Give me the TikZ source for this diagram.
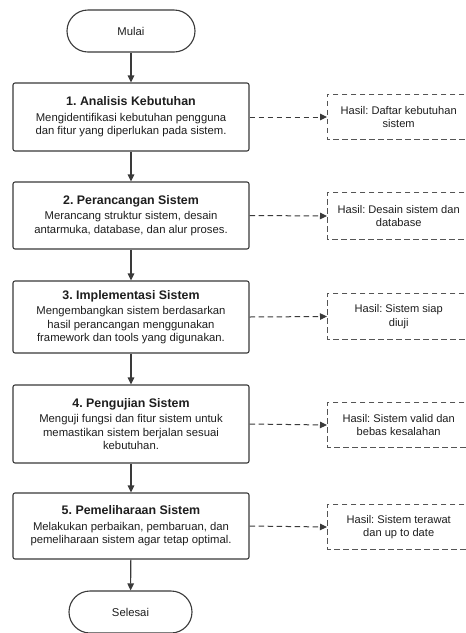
\documentclass[tikz,border=0pt]{standalone}
\usepackage{fontspec}
\setmainfont{Liberation Sans}
\frenchspacing
\usetikzlibrary{arrows.meta}
\definecolor{linegray}{HTML}{3A3A3A}
\definecolor{dashgray}{HTML}{555555}
\definecolor{txt}{HTML}{1E1E1E}
\tikzset{
  terminal/.style={draw=linegray, line width=1.1pt, rounded corners=21pt, minimum height=42pt, inner sep=0pt, text=txt, font=\fontsize{11.3}{13.5}\selectfont},
  stepbox/.style={draw=linegray, line width=1.1pt, rounded corners=2pt, minimum width=236pt, inner sep=0pt, align=center, text=txt, font=\fontsize{11.3}{13.5}\selectfont},
  resultbox/.style={minimum width=143pt, inner sep=0pt, align=center, text=txt, font=\fontsize{11.1}{13.5}\selectfont},
  dashframe/.style={draw=dashgray, line width=0.9pt, dash pattern=on 5.5pt off 3.5pt},
  flow/.style={draw=linegray, line width=1.1pt, -{Triangle[length=7pt,width=6.5pt]}},
  dflow/.style={draw=linegray, line width=1pt, dash pattern=on 5.5pt off 3.5pt, -{Triangle[length=7pt,width=6.5pt]}}
}
\newcommand{\steptitle}[1]{{\fontsize{12.4}{15}\selectfont\bfseries #1}\\[2pt]}
\begin{document}
\begin{tikzpicture}[x=1pt,y=-1pt]
\useasboundingbox[fill=white] (0,0) rectangle (466,633);

\node[terminal, minimum width=128pt] (mulai) at (131,31) {Mulai};

\node[stepbox, minimum height=68pt] (s1) at (131,117) {\steptitle{1. Analisis Kebutuhan}Mengidentifikasi kebutuhan pengguna\\dan fitur yang diperlukan pada sistem.};
\node[stepbox, minimum height=67pt] (s2) at (131,215.5) {\steptitle{2. Perancangan Sistem}Merancang struktur sistem, desain\\antarmuka, database, dan alur proses.};
\node[stepbox, minimum height=72pt] (s3) at (131,317) {\steptitle{3. Implementasi Sistem}Mengembangkan sistem berdasarkan\\hasil perancangan menggunakan\\framework dan tools yang digunakan.};
\node[stepbox, minimum height=78pt] (s4) at (131,424) {\steptitle{4. Pengujian Sistem}Menguji fungsi dan fitur sistem untuk\\memastikan sistem berjalan sesuai\\kebutuhan.};
\node[stepbox, minimum height=66pt] (s5) at (131,526) {\steptitle{5. Pemeliharaan Sistem}Melakukan perbaikan, pembaruan, dan\\pemeliharaan sistem agar tetap optimal.};

\node[terminal, minimum width=123pt] (selesai) at (130.5,612) {Selesai};

\node[resultbox, minimum height=45pt, anchor=west] (r1) at (327,117) {Hasil: Daftar kebutuhan\\sistem};
\node[resultbox, minimum height=46pt, anchor=west] (r2) at (327,216) {Hasil: Desain sistem dan\\database};
\node[resultbox, minimum height=45pt, anchor=west] (r3) at (327,316.5) {Hasil: Sistem siap\\diuji};
\node[resultbox, minimum height=44pt, anchor=west] (r4) at (327,425) {Hasil: Sistem valid dan\\bebas kesalahan};
\node[resultbox, minimum height=44pt, anchor=west] (r5) at (327,527) {Hasil: Sistem terawat\\dan up to date};

\foreach \r in {r1,r2,r3,r4,r5}{
  \draw[dashframe] ([xshift=30pt]\r.north east) -- (\r.north west) -- (\r.south west) -- ([xshift=30pt]\r.south east);
}

\draw[flow] (mulai) -- (s1);
\draw[flow] (s1) -- (s2);
\draw[flow] (s2) -- (s3);
\draw[flow] (s3) -- (s4);
\draw[flow] (s4) -- (s5);
\draw[flow] (s5) -- (selesai);

\draw[dflow] (s1.east) -- (r1.west);
\draw[dflow] (s2.east) -- (r2.west);
\draw[dflow] (s3.east) -- (r3.west);
\draw[dflow] (s4.east) -- (r4.west);
\draw[dflow] (s5.east) -- (r5.west);
\end{tikzpicture}
\end{document}
